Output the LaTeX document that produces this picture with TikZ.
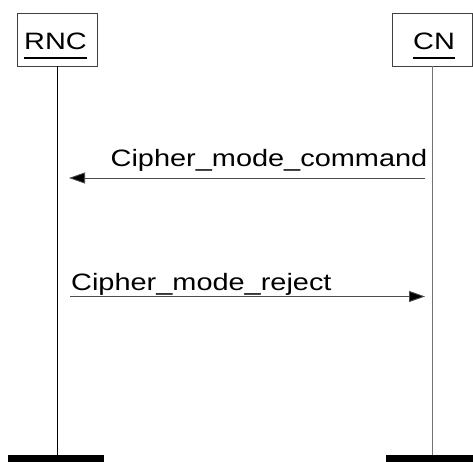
\documentclass[tikz,border=0pt]{standalone}
\usepackage{fontspec}
\setmainfont{Liberation Sans}
\usetikzlibrary{arrows.meta}
\newcommand\myul[1]{\setbox0=\hbox{#1}\hbox{\copy0\kern-\wd0\rule[-10pt]{\wd0}{2.6pt}}}
\newcommand\wide[1]{\scalebox{1.22}[1]{#1}}
\tikzset{
  headbox/.style={draw=black!75, line width=0.9pt, minimum width=80pt, minimum height=53pt, inner sep=0pt},
  lbl/.style={inner sep=0pt, font=\fontsize{23.7}{28}\selectfont},
  bar/.style={fill=black, draw=none, minimum height=7pt, inner sep=0pt},
  msg/.style={draw=black!70, line width=0.8pt, -{Triangle[length=16pt,width=11pt,fill=black]}},
}
\begin{document}
\begin{tikzpicture}[x=1pt,y=-1pt]
\useasboundingbox (0,0) rectangle (473,462);
% heads
\node[headbox] (rncbox) at (57.5,39.5) {};
\node[headbox] (cnbox) at (432.5,39.5) {};
\node[lbl, anchor=base] (rnc) at (55.5,49.3) {\wide{\myul{RNC}}};
\node[lbl, anchor=base] (cn) at (434,49.3) {\wide{\myul{CN}}};
% bars
\node[bar, minimum width=96pt] (rncbar) at (56,458.5) {};
\node[bar, minimum width=94pt] (cnbar) at (433,458.5) {};
% lifelines
\draw[black, line width=0.9pt] (rncbox.south) -- (rncbox.south |- rncbar.north);
\draw[black!55, line width=1pt] (cnbox.south) -- (cnbox.south |- cnbar.north);
% messages
\coordinate (m1s) at (425,178);
\coordinate (m1e) at (69,178);
\coordinate (m2s) at (70,296.5);
\coordinate (m2e) at (425,296.5);
\draw[msg] (m1s) -- (m1e);
\draw[msg] (m2s) -- (m2e);
\node[lbl, anchor=base west] (l1) at (110.5,166.7) {\wide{Cipher\_mode\_command}};
\node[lbl, anchor=base west] (l2) at (71,290.5) {\wide{Cipher\_mode\_reject}};
\end{tikzpicture}
\end{document}
